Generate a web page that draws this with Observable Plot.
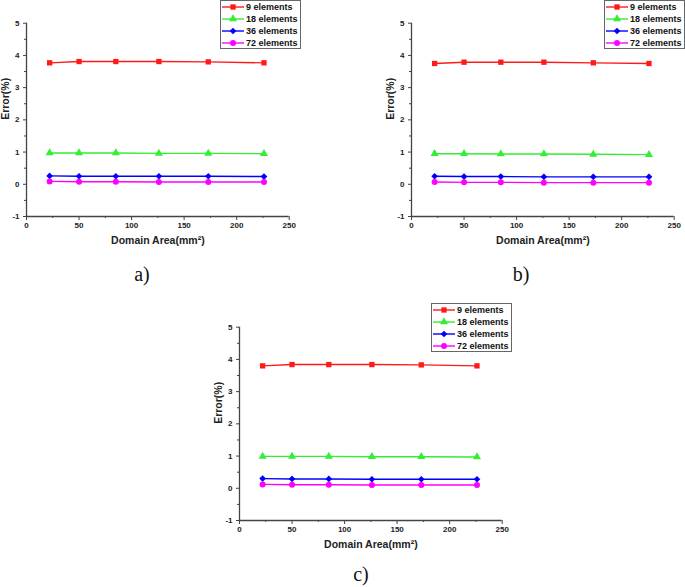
<!DOCTYPE html>
<html><head><meta charset="utf-8">
<script src="https://cdn.jsdelivr.net/npm/d3@7"></script>
<script src="https://cdn.jsdelivr.net/npm/@observablehq/plot@0.6"></script>
<style>
body{margin:0;background:#fff;}
#root{position:relative;width:685px;height:587px;overflow:hidden;font-family:"Liberation Sans",Arial,sans-serif;}
.panel{position:absolute;}
.legend{position:absolute;border:1px solid #666;background:#fff;font-weight:bold;font-size:9px;color:#111;box-sizing:border-box;padding-top:0.5px;}
.legend .row{display:flex;align-items:center;height:11.8px;white-space:nowrap;}
.legend svg{display:block;margin-right:1px;}
.tag{position:absolute;width:40px;text-align:center;font-family:"Liberation Serif","Times New Roman",serif;font-size:20px;line-height:20px;color:#111;}
</style>
</head><body>
<div id="root"></div>
<script>
// ---- data ----
const areas = [22, 50, 85, 126, 173, 226];
const seriesNames = ["9 elements", "18 elements", "36 elements", "72 elements"];
const seriesColors = ["#ff1a1a", "#33ee33", "#0000ff", "#ff00ff"];
const seriesSymbols = ["square", "triangle", "diamond2", "circle"];
const xTicks = [0, 50, 100, 150, 200, 250];
const xMinor = [25, 75, 125, 175, 225];
const yTicks = [-1, 0, 1, 2, 3, 4, 5];
const yMinor = [-0.5, 0.5, 1.5, 2.5, 3.5, 4.5];
const xLabel = "Domain Area(mm²)";
const yLabel = "Error(%)";
const panelTags = ["a)", "b)", "c)"];

// panel a
const a9  = [3.77, 3.81, 3.81, 3.81, 3.80, 3.77];
const a18 = [0.97, 0.97, 0.97, 0.96, 0.96, 0.95];
const a36 = [0.26, 0.25, 0.25, 0.25, 0.25, 0.24];
const a72 = [0.09, 0.08, 0.08, 0.07, 0.07, 0.07];
// panel b
const b9  = [3.75, 3.79, 3.79, 3.79, 3.77, 3.75];
const b18 = [0.95, 0.95, 0.94, 0.94, 0.93, 0.92];
const b36 = [0.25, 0.24, 0.24, 0.23, 0.23, 0.23];
const b72 = [0.07, 0.06, 0.06, 0.05, 0.05, 0.05];
// panel c
const c9  = [3.80, 3.84, 3.84, 3.84, 3.83, 3.80];
const c18 = [0.99, 0.99, 0.99, 0.98, 0.98, 0.97];
const c36 = [0.30, 0.29, 0.29, 0.28, 0.28, 0.28];
const c72 = [0.12, 0.11, 0.11, 0.10, 0.10, 0.10];

const root = document.getElementById("root");

function makePanel(vals) {
  const rows = [];
  seriesNames.forEach((n, i) => areas.forEach((a, j) => rows.push({area: a, err: vals[i][j], series: n})));
  return Plot.plot({
    width: 305, height: 290,
    marginLeft: 26, marginRight: 16.3, marginTop: 22.7, marginBottom: 74,
    x: {domain: [0, 250]},
    y: {domain: [-1, 5]},
    color: {domain: seriesNames, range: seriesColors},
    symbol: {domain: seriesNames, range: seriesSymbols},
    style: {fontFamily: "'Liberation Sans', Arial, sans-serif", fontWeight: "bold", fontSize: "8px", color: "#222", background: "transparent", overflow: "visible"},
    marks: [
      Plot.axisX({ticks: xTicks, tickSize: 4, tickPadding: 2, tickFormat: d => String(d), label: null, stroke: "#444"}),
      Plot.axisX({ticks: xMinor, tickSize: 2, text: null, label: null, stroke: "#444"}),
      Plot.axisY({ticks: yTicks, tickSize: 3, tickPadding: 4, tickFormat: d => String(d), label: null, stroke: "#444"}),
      Plot.axisY({ticks: yMinor, tickSize: 2, text: null, label: null, stroke: "#444"}),
      Plot.ruleX([0], {stroke: "#444", strokeWidth: 1.3}),
      Plot.ruleY([-1], {stroke: "#444", strokeWidth: 1.3}),
      Plot.line(rows, {x: "area", y: "err", z: "series", stroke: "series", strokeWidth: 1.4}),
      Plot.dot(rows, {x: "area", y: "err", fill: "series", symbol: "series", r: 3}),
      Plot.text([xLabel], {frameAnchor: "bottom", dy: 27.5, fontSize: 10.5, fontWeight: "bold", fill: "#222"}),
      Plot.text([yLabel], {frameAnchor: "left", dx: -21, rotate: -90, fontSize: 10.5, fontWeight: "bold", fill: "#222"})
    ]
  });
}

function makeLegend(left, top) {
  const box = document.createElement("div");
  box.className = "legend";
  box.style.left = left + "px";
  box.style.top = top + "px";
  box.style.width = "81px";
  box.style.height = "49px";
  const symMap = {square: d3.symbolSquare, triangle: d3.symbolTriangle, diamond2: d3.symbolDiamond2, circle: d3.symbolCircle};
  seriesNames.forEach((n, i) => {
    const row = document.createElement("div");
    row.className = "row";
    const path = d3.symbol(symMap[seriesSymbols[i]], 9 * Math.PI)();
    row.innerHTML = `<svg width="24" height="12"><line x1="1" x2="23" y1="6" y2="6" stroke="${seriesColors[i]}" stroke-width="1.4"/><path d="${path}" transform="translate(12,6)" fill="${seriesColors[i]}"/></svg><span>${n}</span>`;
    box.appendChild(row);
  });
  root.appendChild(box);
}

function place(el, left, top) {
  el.classList.add("panel");
  el.style.left = left + "px";
  el.style.top = top + "px";
  root.appendChild(el);
}

function tag(text, cx, cy) {
  const d = document.createElement("div");
  d.className = "tag";
  d.textContent = text;
  d.style.left = (cx - 20) + "px";
  d.style.top = (cy - 10) + "px";
  root.appendChild(d);
}

place(makePanel([a9, a18, a36, a72]), 0, 0);
place(makePanel([b9, b18, b36, b72]), 385, 0);
place(makePanel([c9, c18, c36, c72]), 213, 303.6);

makeLegend(220, 0);
makeLegend(604, 0);
makeLegend(431, 303);

tag(panelTags[0], 142, 274);
tag(panelTags[1], 521, 274);
tag(panelTags[2], 361, 574);
</script>
</body></html>
